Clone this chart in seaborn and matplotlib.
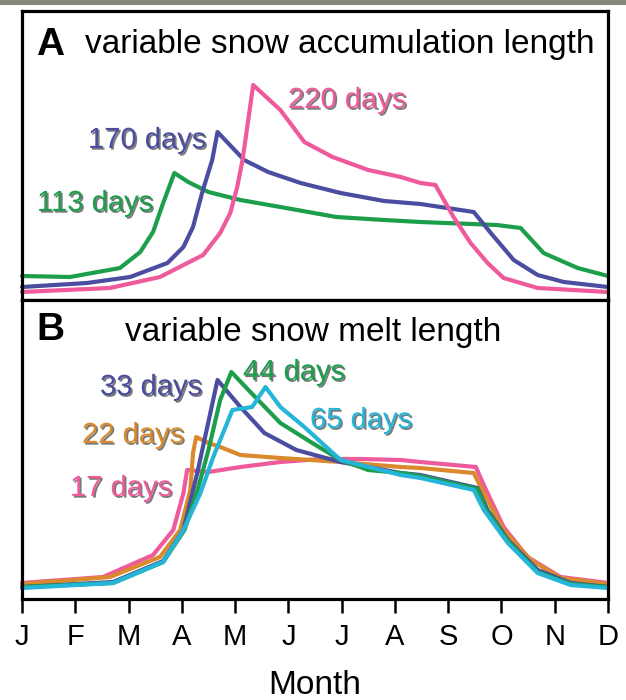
import numpy as np
import pandas as pd
import matplotlib
matplotlib.use("Agg")
import matplotlib.pyplot as plt
import matplotlib.patheffects as pe
import seaborn as sns

sns.set_theme(style="white")
plt.rcParams['font.family'] = ['Liberation Sans', 'DejaVu Sans']
plt.rcParams['text.color'] = 'black'

months = ["J", "F", "M", "A", "M", "J", "J", "A", "S", "O", "N", "D"]

# Panel A: variable snow accumulation length (x in months from Jan, y relative flow)
a113_x = [0, 0.9, 1.84, 2.22, 2.46, 2.65, 2.86, 3.12, 3.50, 4.10, 4.85, 5.90, 6.80, 7.48, 8.91, 9.36, 9.79, 10.43, 11]
a113_y = [24, 23, 32, 48, 68, 97, 127, 118, 108, 100, 93, 83, 80, 78, 75, 72, 47, 32, 24]
a170_x = [0, 1.22, 2.03, 2.73, 3.03, 3.21, 3.38, 3.57, 3.67, 4.17, 4.62, 5.23, 5.98, 6.80, 7.48, 8.48, 8.80, 9.23, 9.68, 10.17, 11]
a170_y = [13, 17, 23, 37, 53, 73, 107, 140, 168, 140, 128, 117, 107, 99, 96, 88, 67, 40, 25, 18, 13]
a220_x = [0, 1.65, 2.59, 3.40, 3.72, 3.91, 4.04, 4.14, 4.34, 4.85, 5.30, 5.83, 6.50, 7.11, 7.48, 7.76, 8.10, 8.42, 8.74, 9.04, 9.68, 11]
a220_y = [8, 12, 23, 45, 67, 87, 113, 140, 215, 190, 158, 143, 130, 123, 117, 115, 83, 57, 37, 22, 12, 8]

# Panel B: variable snow melt length
b17_x = [0, 1.52, 2.46, 2.84, 3.03, 3.10, 3.50, 4.10, 4.85, 5.60, 6.35, 7.11, 7.48, 8.52, 8.65, 9.04, 9.49, 10.11, 11]
b17_y = [16, 22, 44, 69, 106, 129, 127, 132, 137, 140, 140, 139, 137, 132, 116, 72, 42, 22, 16]
b22_x = [0, 1.65, 2.59, 2.97, 3.16, 3.21, 3.27, 3.50, 3.72, 4.10, 4.85, 5.98, 7.11, 7.48, 8.48, 8.61, 9.04, 9.55, 10.11, 11]
b22_y = [15, 22, 42, 69, 109, 146, 162, 156, 152, 144, 141, 137, 132, 131, 126, 112, 69, 39, 21, 15]
b33_x = [0, 1.71, 2.65, 3.03, 3.29, 3.67, 4.10, 4.55, 5.15, 5.98, 7.11, 7.48, 8.55, 8.74, 9.12, 9.68, 10.30, 11]
b33_y = [12, 17, 38, 69, 126, 219, 192, 166, 149, 137, 126, 124, 111, 89, 59, 29, 16, 12]
b44_x = [0, 1.71, 2.65, 3.05, 3.30, 3.50, 3.72, 3.93, 4.25, 4.85, 5.45, 5.98, 6.50, 7.11, 7.48, 8.55, 8.70, 9.12, 9.68, 10.30, 11]
b44_y = [12, 16, 37, 69, 110, 149, 199, 227, 209, 176, 156, 139, 129, 126, 123, 110, 90, 58, 27, 15, 12]
b65_x = [0, 1.71, 2.65, 3.03, 3.35, 3.59, 3.95, 4.32, 4.57, 4.85, 5.30, 5.98, 7.11, 7.48, 8.48, 8.67, 9.12, 9.68, 10.30, 11]
b65_y = [11, 16, 37, 69, 106, 142, 189, 192, 212, 192, 172, 139, 124, 121, 109, 89, 56, 26, 14, 11]

PINK = "#ee5a9c"
BLUE = "#4b4da0"
GREEN = "#1c9e4b"
ORANGE = "#da8a2c"
CYAN = "#24b5d8"

W, H = 626, 700
fig = plt.figure(figsize=(W / 100, H / 100), dpi=100)
fig.patch.set_facecolor("white")

def fx(px):
    return px / W

def fy(py):
    return 1 - py / H

axA = fig.add_axes([fx(22), fy(300), fx(608) - fx(22), fy(11) - fy(300)])
axB = fig.add_axes([fx(22), fy(599), fx(608) - fx(22), fy(300) - fy(599)])

lw = 3.0
for xs, ys, c in [(a113_x, a113_y, GREEN), (a170_x, a170_y, BLUE), (a220_x, a220_y, PINK)]:
    df = pd.DataFrame({"month": xs, "flow": ys})
    sns.lineplot(data=df, x="month", y="flow", color=c, linewidth=lw, ax=axA,
                 estimator=None, sort=False, clip_on=False)
for xs, ys, c in [(b17_x, b17_y, PINK), (b22_x, b22_y, ORANGE), (b33_x, b33_y, BLUE),
                  (b44_x, b44_y, GREEN), (b65_x, b65_y, CYAN)]:
    df = pd.DataFrame({"month": xs, "flow": ys})
    sns.lineplot(data=df, x="month", y="flow", color=c, linewidth=lw, ax=axB,
                 estimator=None, sort=False, clip_on=False)

axA.set_ylim(0, 289)
axB.set_ylim(0, 299)
for ax in (axA, axB):
    ax.set_xlim(0, 11)
    ax.set_yticks([])
    ax.set_ylabel("")
    ax.set_xlabel("")
    for s in ax.spines.values():
        s.set_visible(True)
        s.set_color("black")
        s.set_linewidth(2.3)
        s.set_zorder(5)

axA.set_xticks([])
axB.set_xticks(range(12))
axB.set_xticklabels(months, fontsize=21)
axB.tick_params(axis="x", direction="out", length=10, width=1.8, color="black",
                bottom=True, pad=7, labelcolor="black")
fig.text(fx(315), fy(686), "Month", fontsize=24, ha="center", va="center", color="black")

# titles
fig.text(fx(36), fy(45), "A", fontsize=28, fontweight="bold", ha="left", va="center", color="black")
fig.text(fx(85), fy(45), "variable snow accumulation length", fontsize=24, ha="left", va="center", color="black")
fig.text(fx(36), fy(330), "B", fontsize=28, fontweight="bold", ha="left", va="center", color="black")
fig.text(fx(125), fy(332), "variable snow melt length", fontsize=24, ha="left", va="center", color="black")

shadow = [pe.withSimplePatchShadow(offset=(1.2, -1.2), shadow_rgbFace="#222222", alpha=0.6)]
labels = [
    ("220 days", 288, 100, PINK),
    ("170 days", 88, 140, BLUE),
    ("113 days", 37, 203, GREEN),
    ("33 days", 100, 387, BLUE),
    ("44 days", 243, 372, GREEN),
    ("22 days", 82, 435, ORANGE),
    ("65 days", 310, 420, CYAN),
    ("17 days", 70, 488, PINK),
]
for t, px, py, c in labels:
    fig.text(fx(px), fy(py), t, fontsize=21, color=c, ha="left", va="center",
             path_effects=shadow)

# top grey band
fig.patches.append(plt.Rectangle((0, fy(5)), 1, 1 - fy(5), transform=fig.transFigure,
                                 facecolor="#86887a", edgecolor="none", zorder=0))

fig.savefig("out.png", dpi=100, facecolor="white")
